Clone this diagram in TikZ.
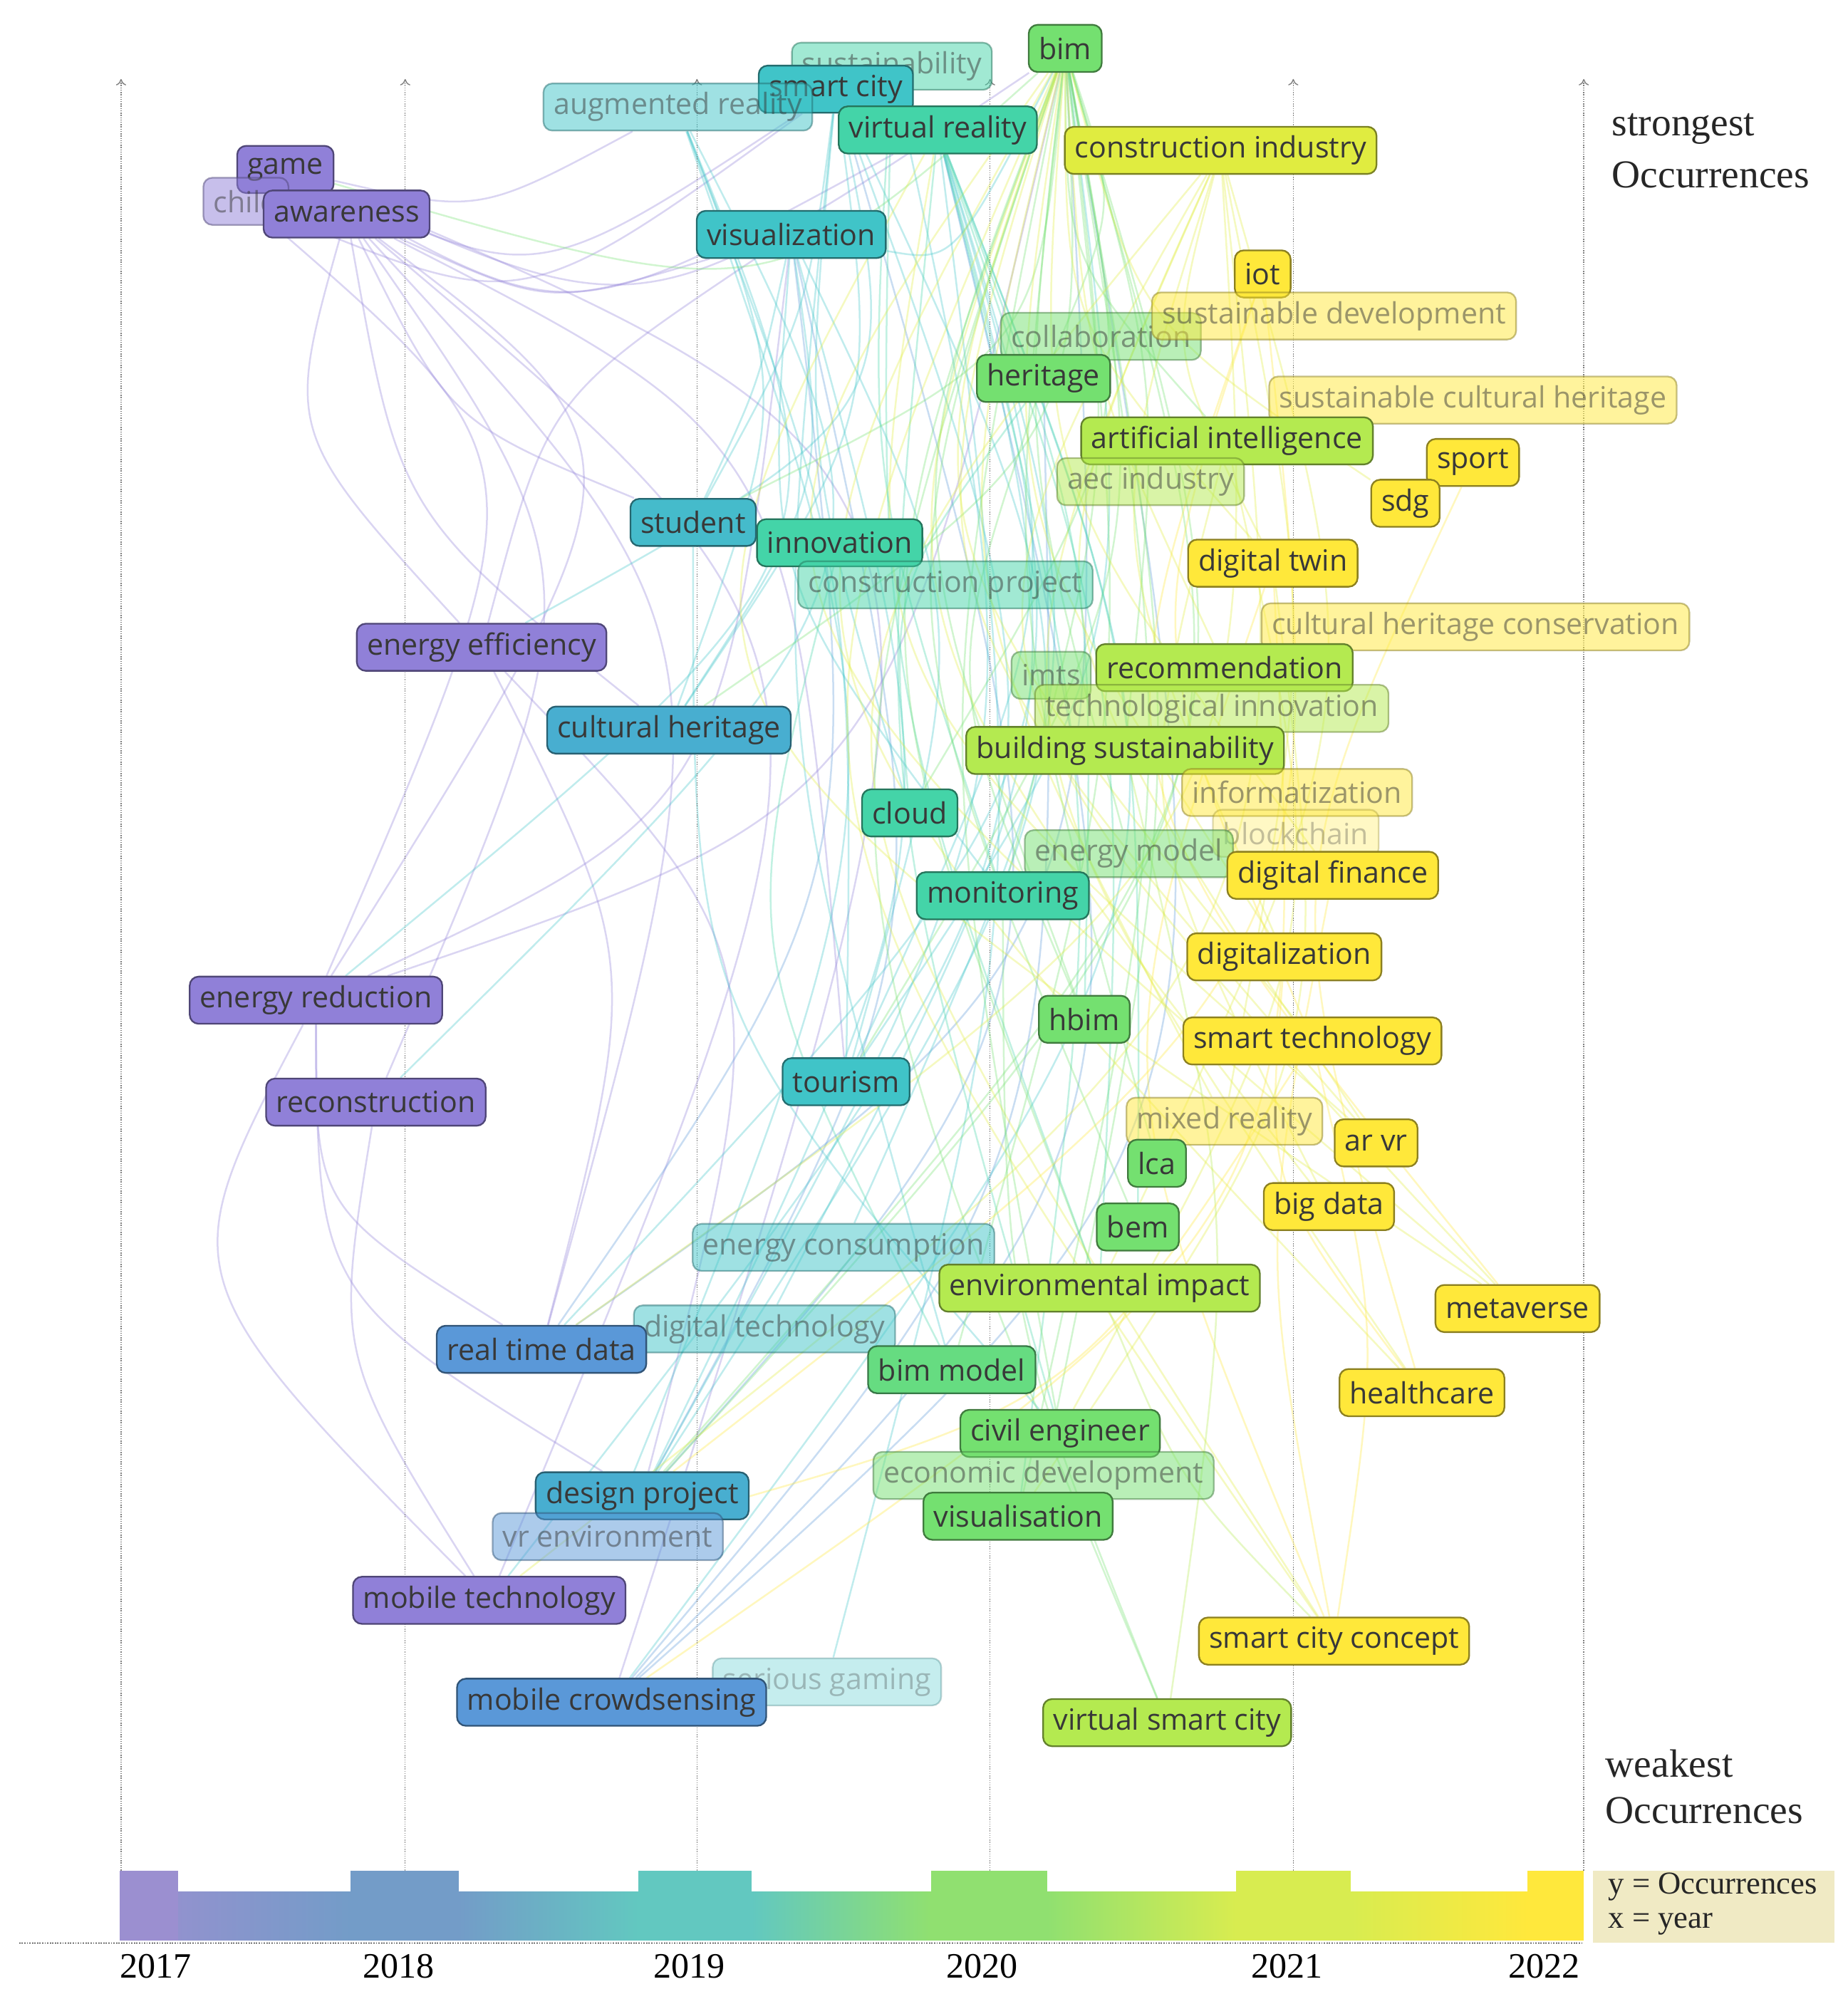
\documentclass[tikz,border=0pt]{standalone}
\usepackage{fontspec}
\setmainfont{Liberation Serif}
\newfontfamily\kwfont{Open Sans}
\usetikzlibrary{arrows.meta,calc}
\pgfdeclarelayer{bg}
\pgfsetlayers{bg,main}
\definecolor{cP}{HTML}{9080D8}
\definecolor{cB}{HTML}{5A98D8}
\definecolor{cBT}{HTML}{48AED0}
\definecolor{cT}{HTML}{40C4C8}
\definecolor{cTG}{HTML}{44D4A8}
\definecolor{cG}{HTML}{74E070}
\definecolor{cLG}{HTML}{B4EA50}
\definecolor{cYG}{HTML}{E0EC40}
\definecolor{cY}{HTML}{FFE83A}
\definecolor{y17}{HTML}{9B8FD0}
\definecolor{y18}{HTML}{739CC8}
\definecolor{y19}{HTML}{62C8C0}
\definecolor{y20}{HTML}{90E070}
\definecolor{y21}{HTML}{D8EC50}
\definecolor{y22}{HTML}{FFE83C}
\definecolor{legbg}{HTML}{F0EAC4}
\tikzset{
 kw/.style={rounded corners=7pt, fill=#1, draw=#1!55!black, line width=1.3pt,
   text=black!78, inner xsep=8pt, inner ysep=2pt, minimum height=37pt,
   font=\kwfont\fontsize{23}{25}\selectfont},
 faded/.style={opacity=.5},
 vfaded/.style={opacity=.3},
 edge/.style={draw=#1, line width=1.4pt, opacity=.33},
 axis/.style={densely dotted, gray, line width=0.8pt, -{To[length=5pt,width=8pt]}},
 lbl/.style={font=\fontsize{31}{34}\selectfont, text=black!85, anchor=west, inner sep=0pt},
 yr/.style={font=\fontsize{28}{30}\selectfont, text=black, inner sep=0pt},
}
\begin{document}
\begin{tikzpicture}[x=1pt,y=-1pt]
\useasboundingbox (0,0) rectangle (1450,1565);
\foreach \x in {95,318,547,777,1015,1243}
  \draw[axis] (\x,1468) -- (\x,62);
\node[kw=cG] (bim) at (836,38) {bim};
\node[kw=cTG,faded] (sus) at (700,52) {sustainability};
\node[kw=cT] (sc) at (656,70) {smart city};
\node[kw=cT,faded] (ar) at (532,84) {augmented reality};
\node[kw=cTG] (vr) at (736,102) {virtual reality};
\node[kw=cYG] (ci) at (958,118) {construction industry};
\node[kw=cP] (game) at (224,133) {game};
\node[kw=cP,faded] (child) at (193,158) {child};
\node[kw=cP] (aw) at (272,168) {awareness};
\node[kw=cT] (vis) at (621,184) {visualization};
\node[kw=cY] (iot) at (991,215) {iot};
\node[kw=cG,faded] (col) at (864,264) {collaboration};
\node[kw=cY,faded] (sd) at (1047,248) {sustainable development};
\node[kw=cG] (her) at (819,297) {heritage};
\node[kw=cY,faded] (sch) at (1156,314) {sustainable cultural heritage};
\node[kw=cLG] (ai) at (963,346) {artificial intelligence};
\node[kw=cY] (sport) at (1156,363) {sport};
\node[kw=cLG,faded] (aec) at (903,378) {aec industry};
\node[kw=cY] (sdg) at (1103,395) {sdg};
\node[kw=cTG] (inn) at (659,426) {innovation};
\node[kw=cT!80!cB] (stu) at (544,410) {student};
\node[kw=cTG,faded] (cp) at (742,459) {construction project};
\node[kw=cY] (dt) at (999,442) {digital twin};
\node[kw=cP] (ee) at (378,508) {energy efficiency};
\node[kw=cY,faded] (chc) at (1158,492) {cultural heritage conservation};
\node[kw=cLG] (rec) at (961,524) {recommendation};
\node[kw=cG,faded] (imts) at (825,530) {imts};
\node[kw=cLG,faded] (ti) at (951,556) {technological innovation};
\node[kw=cBT] (ch) at (525,573) {cultural heritage};
\node[kw=cLG] (bs) at (883,589) {building sustainability};
\node[kw=cY,faded] (inf) at (1018,622) {informatization};
\node[kw=cTG] (cloud) at (714,638) {cloud};
\node[kw=cY,vfaded] (bc) at (1017,654) {blockchain};
\node[kw=cG,faded] (em) at (886,670) {energy model};
\node[kw=cY] (df) at (1046,687) {digital finance};
\node[kw=cTG] (mon) at (787,703) {monitoring};
\node[kw=cY] (dig) at (1008,751) {digitalization};
\node[kw=cP] (er) at (248,785) {energy reduction};
\node[kw=cG] (hbim) at (851,800) {hbim};
\node[kw=cY] (st) at (1030,817) {smart technology};
\node[kw=cT] (tour) at (664,849) {tourism};
\node[kw=cP] (rcon) at (295,865) {reconstruction};
\node[kw=cY,faded] (mr) at (961,880) {mixed reality};
\node[kw=cY] (arvr) at (1080,897) {ar vr};
\node[kw=cG] (lca) at (908,913) {lca};
\node[kw=cY] (bd) at (1043,947) {big data};
\node[kw=cG] (bem) at (893,963) {bem};
\node[kw=cT,faded] (ec) at (662,979) {energy consumption};
\node[kw=cLG] (ei) at (863,1011) {environmental impact};
\node[kw=cY] (meta) at (1191,1027) {metaverse};
\node[kw=cT,faded] (dtech) at (600,1043) {digital technology};
\node[kw=cB] (rtd) at (425,1059) {real time data};
\node[kw=cG!70!cTG] (bimm) at (747,1075) {bim model};
\node[kw=cY] (hc) at (1116,1093) {healthcare};
\node[kw=cG] (civ) at (832,1125) {civil engineer};
\node[kw=cG,faded] (edev) at (819,1158) {economic development};
\node[kw=cBT] (dp) at (504,1174) {design project};
\node[kw=cG] (visu) at (799,1190) {visualisation};
\node[kw=cB,faded] (vre) at (477,1206) {vr environment};
\node[kw=cP] (mt) at (384,1256) {mobile technology};
\node[kw=cY] (scc) at (1047,1288) {smart city concept};
\node[kw=cT,vfaded] (sg) at (649,1320) {serious gaming};
\node[kw=cB] (mc) at (480,1336) {mobile crowdsensing};
\node[kw=cLG] (vsc) at (916,1352) {virtual smart city};
\begin{pgfonlayer}{bg}
\foreach \a/\b/\c/\d in {
 aw/er/cP/25, aw/rcon/cP/15, aw/ee/cP/-15, aw/mt/cP/20, aw/rtd/cP/15, game/vr/cP/-15, game/bim/cP/-15,
 aw/vis/cP/-10, game/sc/cP/-15, aw/ch/cP/-10, aw/stu/cP/-10, er/mt/cP/-20, er/rtd/cP/-15, er/vis/cP/-15,
 er/dp/cP/-15, rcon/mt/cP/-10, ee/dp/cP/15, game/mc/cP/25, aw/tour/cP/15, er/bim/cP/-15, game/ar/cP/-10,
 child/er/cP/20, child/sc/cP/-15, ee/vis/cP/10, ee/rtd/cP/10,
 rtd/vis/cB/-10, mc/vr/cB/-15, mc/bim/cB/-15, dp/vis/cB/-10, vre/sc/cB/-15, mc/her/cB/-10, rtd/bim/cB/-15,
 vis/ch/cT/10, vis/stu/cT/3, vis/mon/cT/-10, vis/tour/cT/10, vis/dp/cT/10, sc/ee/cT/20, sc/mt/cT/15,
 ar/rcon/cT/20, ar/er/cT/20, vr/tour/cT/10, vr/ec/cT/10, vr/mc/cT/15, vr/dtech/cT/10, stu/civ/cT/-10,
 sc/dp/cT/15, vr/rtd/cT/15, inn/bimm/cTG/-10, cloud/her/cTG/10, tour/bim/cT/-10, vis/bim/cT/-20,
 sc/ch/cT/10, sc/stu/cT/5, ar/ch/cT/10, ar/vre/cT/10, sus/dp/cT/10, sus/mon/cTG/-5, sus/ei/cTG/-5,
 sc/cloud/cT/-5, sc/bimm/cT/-5, ar/tour/cT/5, vr/sg/cT/5, vr/visu/cTG/5, vr/civ/cTG/-5,
 bim/her/cG/10, bim/ai/cG/-10, bim/hbim/cG/-10, bim/lca/cG/-5, bim/bem/cG/-10, bim/ei/cG/-10, bim/bimm/cG/5,
 bim/civ/cG/-5, bim/visu/cG/5, bim/vsc/cG/-10, bim/mon/cG/5, bim/cloud/cG/10, bim/bs/cG/5, bim/ch/cG/15,
 bim/stu/cG/15, bim/tour/cG/10, bim/dp/cG/15, bim/vre/cG/15, bim/edev/cG/5, bim/game/cG/15, bim/em/cG/-5,
 bim/meta/cYG/-25, bim/hc/cYG/-20, bim/scc/cYG/-15, bim/dt/cYG/-10, bim/st/cYG/-15, bim/bd/cYG/-15,
 bim/dig/cYG/-10, bim/df/cYG/-10, bim/arvr/cYG/-15, bim/mr/cYG/-10, bim/rec/cYG/-5, bim/sdg/cYG/-10,
 ci/dig/cYG/-10, ci/dt/cYG/-10, ci/meta/cYG/-20, ci/arvr/cYG/-15, ci/hc/cYG/-15, ci/scc/cYG/-20,
 iot/st/cY/-10, iot/meta/cY/-15, sport/hc/cY/-10, dt/scc/cY/-10, dig/hc/cY/-10, ai/bd/cYG/-10,
 vr/meta/cYG/-25, vr/arvr/cYG/-15, vr/hbim/cTG/5, vr/ei/cTG/5, vr/bem/cTG/5, her/hbim/cG/-10,
 ai/civ/cYG/10, dt/visu/cYG/10, df/scc/cY/-5, st/scc/cY/5, ei/scc/cLG/-5, bs/vsc/cLG/5, mon/vsc/cG/-5,
 ci/mr/cYG/5, ci/ei/cYG/10, ci/rtd/cYG/15, ci/mt/cYG/15, iot/dp/cY/15, dt/mc/cY/15, st/vre/cY/10}
 {\pgfmathsetmacro\ang{2.2*\d}
  \draw[edge=\c] (\a) .. controls ($(\a)!0.5!\ang:(\b)$) .. (\b);}
\end{pgfonlayer}
\shade[left color=y17, right color=y18] (94,1485) rectangle (275,1523);
\shade[left color=y18, right color=y19] (360,1485) rectangle (501,1523);
\shade[left color=y19, right color=y20] (590,1485) rectangle (731,1523);
\shade[left color=y20, right color=y21] (822,1485) rectangle (970,1523);
\shade[left color=y21, right color=y22] (1060,1485) rectangle (1199,1523);
\fill[y17] (94,1468) rectangle (140,1523);
\fill[y18] (275,1468) rectangle (360,1523);
\fill[y19] (501,1468) rectangle (590,1523);
\fill[y20] (731,1468) rectangle (822,1523);
\fill[y21] (970,1468) rectangle (1060,1523);
\fill[y22] (1199,1468) rectangle (1243,1523);
\draw[densely dotted, black, line width=1pt] (15,1525) -- (1243,1525);
\node[yr] (t17) at (122,1543) {2017};
\node[yr] (t18) at (313,1543) {2018};
\node[yr] (t19) at (541,1543) {2019};
\node[yr] (t20) at (771,1543) {2020};
\node[yr] (t21) at (1010,1543) {2021};
\node[yr] (t22) at (1212,1543) {2022};
\node[lbl] (s1) at (1265,101) {strongest};
\node[lbl] (s2) at (1265,137) {Occurrences};
\node[lbl] (w1) at (1260,1384) {weakest};
\node[lbl] (w2) at (1260,1421) {Occurrences};
\fill[legbg] (1250,1468) rectangle (1440,1525);
\node[lbl, font=\fontsize{25}{27}\selectfont] (l1) at (1262,1481) {y = Occurrences};
\node[lbl, font=\fontsize{25}{27}\selectfont] (l2) at (1262,1510) {x = year};
\end{tikzpicture}
\end{document}
